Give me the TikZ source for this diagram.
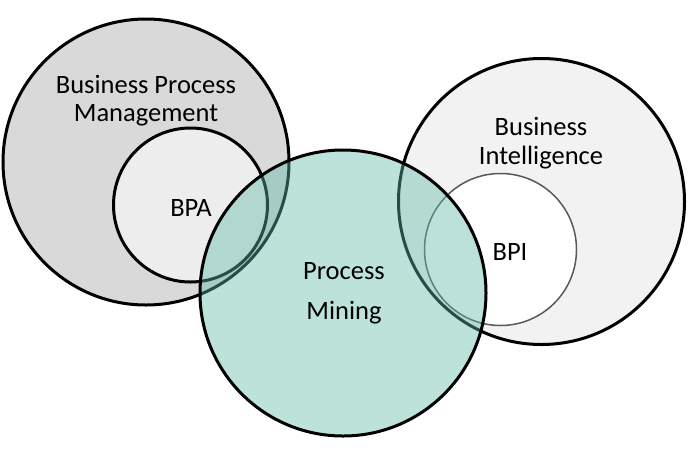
\documentclass[tikz,border=0pt]{standalone}
\usepackage{fontspec}
\setmainfont{Carlito}
\definecolor{bpmfill}{HTML}{D9D9D9}
\definecolor{bpafill}{HTML}{EDEDED}
\definecolor{bifill}{HTML}{F2F2F2}
\definecolor{pmfill}{HTML}{5FB9A8}
\definecolor{thin}{HTML}{595959}
\begin{document}
\begin{tikzpicture}[x=1pt,y=-1pt,
  big/.style={circle,draw=black,line width=3pt,inner sep=0pt,minimum size=286pt},
  small/.style={circle,draw=black,line width=3pt,inner sep=0pt,minimum size=154pt},
  lbl/.style={font=\fontsize{26.5}{28}\selectfont,align=center,inner sep=0pt}]
\useasboundingbox (0,0) rectangle (693,467);
\node[big,fill=bpmfill] (bpm) at (146,162) {};
\node[small,fill=bpafill] (bpa) at (190.5,205) {};
\node[big,fill=bifill] (bi) at (541.5,201.5) {};
\node[small,fill=white,draw=thin,line width=1.5pt,minimum size=152pt] (bpi) at (500.5,249.5) {};
\node[big,fill=pmfill,fill opacity=0.42] (pm) at (343,293) {};
\node[lbl] (tbpm) at (146,101) {Business Process\\Management};
\node[lbl] (tbpa) at (191,208) {BPA};
\node[lbl,font=\fontsize{26.5}{40}\selectfont] (tpm) at (344,293) {Process\\Mining};
\node[lbl,font=\fontsize{26.5}{29}\selectfont] (tbi) at (541,143) {Business\\Intelligence};
\node[lbl] (tbpi) at (510,252) {BPI};
\end{tikzpicture}
\end{document}
